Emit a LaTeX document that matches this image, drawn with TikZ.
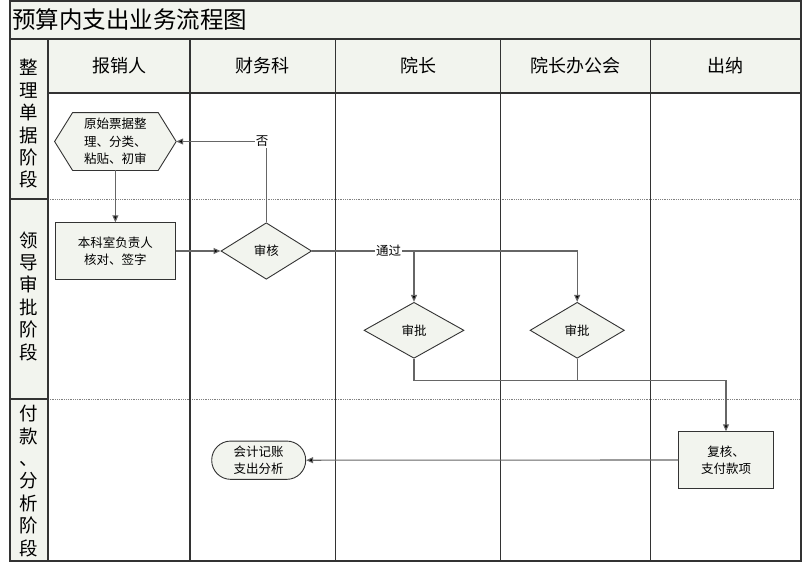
\documentclass[tikz,border=0pt]{standalone}
\usepackage{fontspec}
\setmainfont{Noto Sans CJK SC}
\usetikzlibrary{arrows.meta,shapes.geometric}
\definecolor{paper}{HTML}{F2F4EE}
\definecolor{frame}{HTML}{333333}
\definecolor{wire}{HTML}{666666}
\tikzset{
  grid/.style={draw=frame, line width=1.2pt},
  sep/.style={draw=gray, densely dotted, line width=0.8pt},
  lanehead/.style={font=\fontsize{18}{20}\selectfont, text=black},
  phase/.style={font=\fontsize{18.5}{22.4}\selectfont, align=center, text=black},
  box/.style={draw=frame, line width=0.9pt, fill=paper, font=\fontsize{12.5}{17.5}\selectfont, align=center, inner sep=0pt},
  rectbox/.style={box, rectangle},
  decision/.style={box, diamond},
  terminal/.style={box, rounded corners=19pt},
  conn/.style={draw=wire, line width=1.1pt, -{Triangle[length=7pt,width=6pt,fill=black]}},
  line/.style={draw=wire, line width=1.1pt},
  tag/.style={fill=white, inner sep=1pt, font=\fontsize{12.5}{14}\selectfont},
}
\begin{document}
\begin{tikzpicture}[x=1pt,y=-1pt]
\useasboundingbox (0,0) rectangle (803,568);
\fill[white] (0,0) rectangle (803,568);

% shaded title row, header row and phase column
\fill[paper] (10,1) rectangle (801,39);
\fill[paper] (48,39) rectangle (801,93);
\fill[paper] (10,39) rectangle (48,561);

% phase separators across the lanes
\draw[sep] (48,199) -- (801,199);
\draw[sep] (48,399) -- (801,399);

% grid lines
\draw[grid] (10,1) rectangle (801,561);
\draw[grid] (10,39) -- (801,39);
\draw[grid] (48,93) -- (801,93);
\draw[grid] (10,199) -- (48,199);
\draw[grid] (10,399) -- (48,399);
\foreach \x in {48,190,335.5,500.5,650.5}
  \draw[grid] (\x,39) -- (\x,561);

% title
\node[anchor=west, font=\fontsize{23.5}{25}\selectfont, inner sep=0pt] (title) at (12,20) {预算内支出业务流程图};

% lane headers
\node[lanehead] (h1) at (119,66) {报销人};
\node[lanehead] (h2) at (262.7,66) {财务科};
\node[lanehead] (h3) at (418,66) {院长};
\node[lanehead] (h4) at (575.5,66) {院长办公会};
\node[lanehead] (h5) at (725.7,66) {出纳};

% phase labels
\node[phase] (p1) at (29,124) {整\\理\\单\\据\\阶\\段};
\node[phase] (p2) at (29,296) {领\\导\\审\\批\\阶\\段};
\node[phase] (p3) at (29,481) {付\\款\\、\\分\\析\\阶\\段};

% flow nodes
\node[box, draw=none, fill=none, minimum width=120.7pt, minimum height=57pt] (hex) at (115.4,141.5) {};
\filldraw[draw=frame, line width=0.9pt, fill=paper]
  (hex.west) -- ([xshift=18pt]hex.north west) -- ([xshift=-18pt]hex.north east)
  -- (hex.east) -- ([xshift=-18pt]hex.south east) -- ([xshift=18pt]hex.south west) -- cycle;
\node[align=center, font=\fontsize{12.5}{17.5}\selectfont] (hextext) at (hex.center) {原始票据整\\理、分类、\\粘贴、初审};

\node[rectbox, minimum width=120.7pt, minimum height=56.5pt] (sign) at (115.4,251) {本科室负责人\\核对、签字};
\node[decision, minimum width=90.7pt, minimum height=56.5pt] (audit) at (266.3,251) {审核};
\node[decision, minimum width=100pt, minimum height=56pt] (dean) at (414,330.3) {审批};
\node[decision, minimum width=94.3pt, minimum height=56pt] (board) at (577.2,330.3) {审批};
\node[rectbox, minimum width=94.6pt, minimum height=56.6pt] (pay) at (726,460) {复核、\\支付款项};
\node[terminal, minimum width=94pt, minimum height=38.3pt] (acct) at (258.7,460.2) {会计记账\\支出分析};

\coordinate (join) at (726,380.3);

% connectors
\draw[conn] (hex.south) -- (sign.north);
\draw[conn] (sign.east) -- (audit.west);
\draw[conn] (audit.north) |- (hex.east);
\draw[conn] (audit.east) -| (dean.north);
\draw[conn] (audit.east) -| (board.north);
\draw[line] (board.south) -- (board.south |- join);
\draw[conn] (dean.south) |- (join) -- (pay.north);
\draw[conn] (pay.west) -- (acct.east);

% branch labels
\node[tag] (no) at (262,141.5) {否};
\node[tag] (yes) at (388.5,251) {通过};
\end{tikzpicture}
\end{document}
